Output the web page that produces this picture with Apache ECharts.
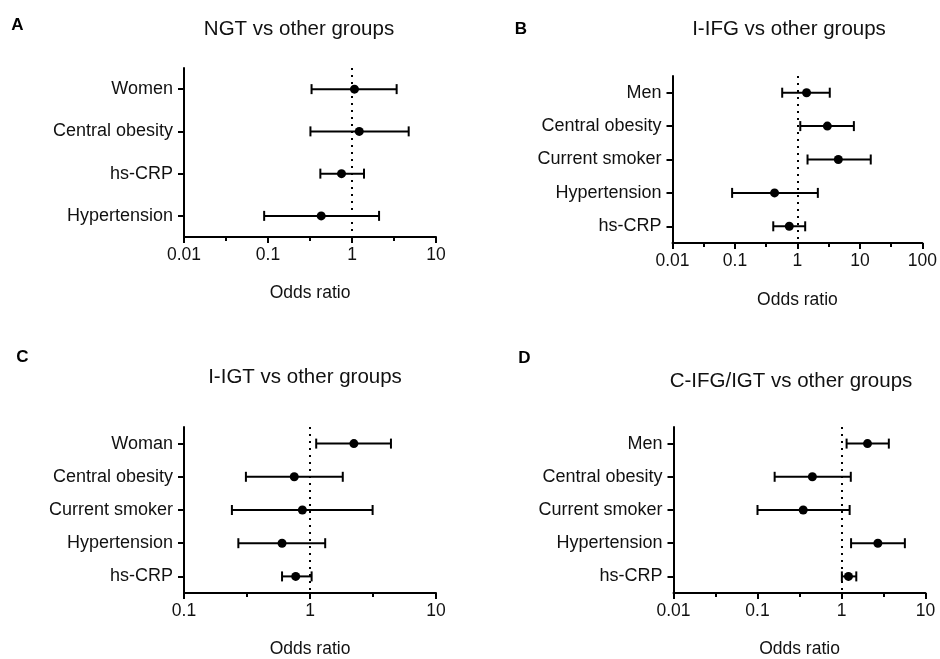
<!DOCTYPE html>
<html>
<head>
<meta charset="utf-8">
<script src="https://cdn.jsdelivr.net/npm/echarts@6/dist/echarts.min.js"></script>
<style>html,body{margin:0;padding:0;background:#fff}#c{width:940px;height:659px}</style>
</head>
<body>
<div id="c"></div>
<script>
// ---- Data ----
var catsA = ['Women', 'Central obesity', 'hs-CRP', 'Hypertension'];
var estA  = [1.07, 1.22, 0.75, 0.43];
var lowA  = [0.33, 0.32, 0.42, 0.09];
var highA = [3.40, 4.73, 1.39, 2.10];

var catsB = ['Men', 'Central obesity', 'Current smoker', 'Hypertension', 'hs-CRP'];
var estB  = [1.40, 3.01, 4.51, 0.43, 0.74];
var lowB  = [0.57, 1.11, 1.45, 0.09, 0.41];
var highB = [3.29, 8.0, 14.9, 2.12, 1.33];

var catsC = ['Woman', 'Central obesity', 'Current smoker', 'Hypertension', 'hs-CRP'];
var estC  = [2.23, 0.75, 0.87, 0.60, 0.77];
var lowC  = [1.12, 0.31, 0.24, 0.27, 0.60];
var highC = [4.39, 1.82, 3.14, 1.32, 1.03];

var catsD = ['Men', 'Central obesity', 'Current smoker', 'Hypertension', 'hs-CRP'];
var estD  = [2.04, 0.45, 0.35, 2.71, 1.21];
var lowD  = [1.15, 0.16, 0.10, 1.30, 1.01];
var highD = [3.66, 1.29, 1.25, 5.68, 1.50];

var tickLabelsA = ['0.01', '0.1', '1', '10'];
var tickLabelsB = ['0.01', '0.1', '1', '10', '100'];
var tickLabelsC = ['0.1', '1', '10'];
var tickLabelsD = ['0.01', '0.1', '1', '10'];

var titles = ['NGT vs other groups', 'I-IFG vs other groups', 'I-IGT vs other groups', 'C-IFG/IGT vs other groups'];
var letters = ['A', 'B', 'C', 'D'];
var axisName = 'Odds ratio';
var refValue = 1;

// ---- Layout ----
var FONT = '"Liberation Sans", Arial, sans-serif';
var panels = [
  {cats: catsA, est: estA, low: lowA, high: highA, ticks: tickLabelsA,
   grid: {left: 184, top: 68, width: 252, height: 169}, nameGap: 47,
   title: [299, 29.5], letter: [17.5, 25]},
  {cats: catsB, est: estB, low: lowB, high: highB, ticks: tickLabelsB,
   grid: {left: 672.5, top: 76, width: 251.5, height: 167}, nameGap: 48,
   title: [789, 29.5], letter: [521, 29.5]},
  {cats: catsC, est: estC, low: lowC, high: highC, ticks: tickLabelsC,
   grid: {left: 184, top: 427, width: 252, height: 168}, nameGap: 47,
   title: [305, 377], letter: [22.5, 357]},
  {cats: catsD, est: estD, low: lowD, high: highD, ticks: tickLabelsD,
   grid: {left: 673.5, top: 427, width: 252, height: 168}, nameGap: 47,
   title: [791, 381], letter: [524.5, 358.5]}
];

var grids = [], xAxes = [], yAxes = [], series = [], graphics = [];

panels.forEach(function (p, i) {
  grids.push(Object.assign({containLabel: false}, p.grid));
  var minExp = Math.log10(parseFloat(p.ticks[0]));
  var maxExp = Math.log10(parseFloat(p.ticks[p.ticks.length - 1]));
  // main log axis
  xAxes.push({
    type: 'log', logBase: 10, gridIndex: i,
    min: Math.pow(10, minExp), max: Math.pow(10, maxExp), interval: 1,
    name: axisName, nameLocation: 'middle', nameGap: p.nameGap,
    nameTextStyle: {fontFamily: FONT, fontSize: 17.5, color: '#111'},
    axisLine: {show: true, onZero: false, lineStyle: {color: '#000', width: 2}},
    axisTick: {show: true, length: 6, lineStyle: {color: '#000', width: 2}},
    axisLabel: {fontFamily: FONT, fontSize: 17.5, color: '#111', margin: 9,
      formatter: (function (ticks, mn) {
        return function (v) { return ticks[Math.round(Math.log10(v) - mn)]; };
      })(p.ticks, minExp)},
    splitLine: {show: false}
  });
  yAxes.push({
    type: 'category', gridIndex: i, data: p.cats, inverse: true,
    axisLine: {show: true, onZero: false, lineStyle: {color: '#000', width: 2}},
    axisTick: {show: true, alignWithLabel: true, length: 6, lineStyle: {color: '#000', width: 2}},
    axisLabel: {fontFamily: FONT, fontSize: 18, color: '#111', margin: 11},
    splitLine: {show: false}
  });
  var data = p.cats.map(function (c, k) { return [k, p.low[k], p.est[k], p.high[k]]; });
  series.push({
    type: 'custom', xAxisIndex: i, yAxisIndex: i, data: data,
    encode: {y: 0, x: [1, 2, 3]},
    renderItem: function (params, api) {
      var cat = api.value(0);
      var pl = api.coord([api.value(1), cat]);
      var pe = api.coord([api.value(2), cat]);
      var ph = api.coord([api.value(3), cat]);
      var st = {stroke: '#000', lineWidth: 2};
      return {type: 'group', children: [
        {type: 'line', shape: {x1: pl[0], y1: pl[1], x2: ph[0], y2: ph[1]}, style: st},
        {type: 'line', shape: {x1: pl[0], y1: pl[1] - 5, x2: pl[0], y2: pl[1] + 5}, style: st},
        {type: 'line', shape: {x1: ph[0], y1: ph[1] - 5, x2: ph[0], y2: ph[1] + 5}, style: st},
        {type: 'circle', shape: {cx: pe[0], cy: pe[1], r: 4.5}, style: {fill: '#000'}}
      ]};
    },
    markLine: {
      silent: true, symbol: ['none', 'none'], label: {show: false},
      lineStyle: {color: '#000', width: 2, type: [2, 5]},
      emphasis: {disabled: true},
      data: [{xAxis: refValue}]
    },
    z: 3
  });
  graphics.push({
    type: 'text', x: p.title[0], y: p.title[1],
    style: {text: titles[i], font: '20.5px ' + FONT, fill: '#111', textAlign: 'center', textVerticalAlign: 'middle'}
  });
  graphics.push({
    type: 'text', x: p.letter[0], y: p.letter[1],
    style: {text: letters[i], font: 'bold 17px ' + FONT, fill: '#000', textAlign: 'center', textVerticalAlign: 'middle'}
  });
});

// minor (half-decade) tick axes, in log10 units
panels.forEach(function (p, i) {
  var minExp = Math.log10(parseFloat(p.ticks[0]));
  var maxExp = Math.log10(parseFloat(p.ticks[p.ticks.length - 1]));
  xAxes.push({
    type: 'value', gridIndex: i, min: Math.round(minExp), max: Math.round(maxExp), interval: 0.5,
    position: 'bottom',
    axisLine: {show: false, onZero: false}, axisLabel: {show: false}, splitLine: {show: false},
    axisTick: {show: true, length: 4, lineStyle: {color: '#000', width: 2}}
  });
});

var chart = echarts.init(document.getElementById('c'), null, {renderer: 'canvas'});
chart.setOption({
  animation: false,
  backgroundColor: '#fff',
  grid: grids, xAxis: xAxes, yAxis: yAxes, series: series,
  graphic: graphics
});
</script>
</body>
</html>
